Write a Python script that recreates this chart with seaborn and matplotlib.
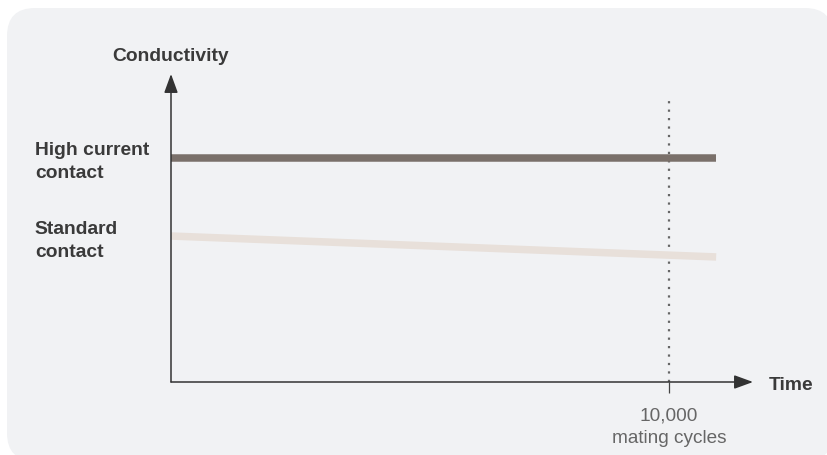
import matplotlib
matplotlib.use("Agg")
import matplotlib.pyplot as plt
import seaborn as sns
import pandas as pd
from matplotlib.patches import FancyBboxPatch

# ---- data ----
cycles = [0, 10950]
high_current = [7.27, 7.27]
standard = [4.74, 4.06]
series_names = ["High current\ncontact", "Standard\ncontact"]
series_colors = ["#7a706a", "#e8e0da"]
x_max = 11690
y_max = 10
milestone = 10000
milestone_top = 9.19
milestone_label = "10,000\nmating cycles"
x_title = "Time"
y_title = "Conductivity"

sns.set_theme(style="white")
plt.rcParams["font.family"] = ["Liberation Sans", "DejaVu Sans"]

df = pd.DataFrame({
    "cycles": cycles * 2,
    "value": high_current + standard,
    "series": [series_names[0]] * len(cycles) + [series_names[1]] * len(cycles),
})

W, H = 828, 456
fig = plt.figure(figsize=(W / 100, H / 100), dpi=100, facecolor="white")

panel = FancyBboxPatch((0.07, -0.06), 8.26, 4.53,
                       boxstyle="round,pad=0,rounding_size=0.28",
                       transform=fig.dpi_scale_trans,
                       facecolor="#f1f2f4", edgecolor="none", zorder=-1)
fig.add_artist(panel)

ax = fig.add_axes([171 / W, (H - 383) / H, (753 - 171) / W, (383 - 75) / H])
ax.set_facecolor("none")
for s in ax.spines.values():
    s.set_visible(False)

# reference dotted line
ax.plot([milestone, milestone], [0, milestone_top], color="#666666", lw=1.6,
        linestyle=(0, (1, 2.8)), zorder=2)

sns.lineplot(data=df, x="cycles", y="value", hue="series", palette=series_colors,
             linewidth=5.4, legend=False, ax=ax, solid_capstyle="butt", zorder=3)

ax.set_xlim(0, x_max)
ax.set_ylim(0, y_max)
ax.set_xlabel("")
ax.set_ylabel("")
ax.set_yticks([])
ax.set_xticks([milestone])
ax.set_xticklabels([milestone_label])
ax.tick_params(axis="x", bottom=True, length=8, width=0.9, color="#444444",
               direction="out", pad=9.5, labelsize=13.7, labelcolor="#666666")
for lbl in ax.get_xticklabels():
    lbl.set_linespacing(1.42)

arrow = dict(arrowstyle="-|>,head_length=11.5,head_width=4.2", mutation_scale=1,
             lw=1.1, color="#333333", shrinkA=0, shrinkB=0)
ax.annotate("", xy=(x_max, 0), xytext=(0, 0), arrowprops=arrow,
            annotation_clip=False, zorder=4)
ax.annotate("", xy=(0, y_max), xytext=(0, 0), arrowprops=arrow,
            annotation_clip=False, zorder=4)

bold = dict(fontsize=13.9, fontweight="bold", color="#3a3a3a", va="baseline")
fig.text(171 / W, 1 - 61 / H, y_title, ha="center", **bold)
fig.text(35 / W, 1 - 178 / H, series_names[0], ha="left", linespacing=1.45, **bold)
fig.text(35 / W, 1 - 257 / H, series_names[1], ha="left", linespacing=1.45, **bold)
fig.text(769 / W, 1 - 390 / H, x_title, ha="left", **bold)

fig.savefig("out.png", dpi=100, facecolor="white")
